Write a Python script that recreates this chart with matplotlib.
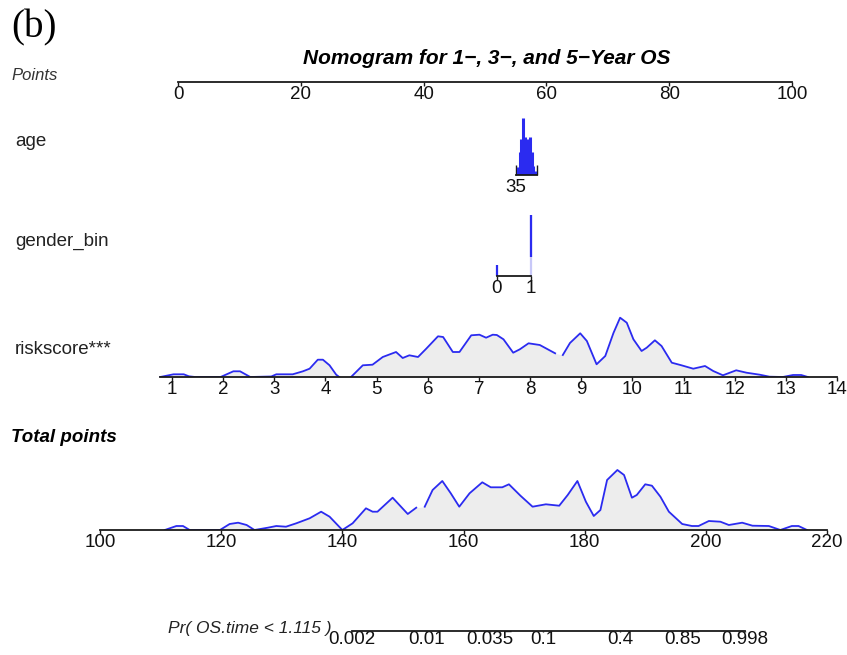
import numpy as np
import matplotlib
matplotlib.use('Agg')
import matplotlib.pyplot as plt

W, H = 847, 655

# ---- data ----
points_ticks = [0, 20, 40, 60, 80, 100]

age_axis = [35, 85]            # only 35 is labelled
age_spike_x = [40, 44, 48, 52, 56, 60, 64, 68, 72, 76, 80]
age_spike_h = [8, 23, 36, 57, 38, 26, 36, 38, 23, 9, 4]

gender_vals = [0, 1]
gender_h = [11, 61]

risk_ticks = list(range(1, 15))
risk_segments = [
    [(0.77, 0), (1.03, 2.7), (1.23, 2.7), (1.33, 0.7), (1.45, 0), (1.95, 0), (2.2, 5.7),
     (2.33, 5.7), (2.53, 0), (2.94, 0.5), (3.04, 2.7), (3.36, 2.7), (3.56, 5.7), (3.69, 8.3),
     (3.85, 17.3), (3.95, 17.3), (4.08, 11.7), (4.21, 2.3), (4.27, 0)],
    [(4.5, 0), (4.73, 11.7), (4.92, 12.3), (5.12, 20), (5.38, 25), (5.51, 19), (5.64, 21.7),
     (5.81, 20), (5.97, 28.3), (6.2, 40.7), (6.3, 40), (6.49, 25), (6.62, 25), (6.85, 41.7),
     (7.01, 42.3), (7.14, 39.3), (7.27, 42.3), (7.35, 42), (7.48, 37.7), (7.67, 24.3),
     (7.8, 27.7), (7.97, 33.7), (8.19, 32), (8.49, 23.7)],
    [(8.64, 22), (8.78, 34), (8.98, 43.7), (9.11, 36), (9.3, 12.7), (9.47, 21), (9.63, 44),
     (9.76, 59.3), (9.89, 54.3), (10.02, 37.7), (10.18, 26), (10.28, 29.3), (10.44, 36.7),
     (10.57, 31), (10.77, 14.3), (10.96, 11.7), (11.19, 8.3), (11.42, 11), (11.58, 6),
     (11.77, 1.7), (12.03, 6.7), (12.23, 4.3), (12.49, 2.3), (12.68, 0.3), (12.94, 0),
     (13.14, 2), (13.3, 2), (13.43, 0)],
]

total_ticks = [100, 120, 140, 160, 180, 200, 220]
total_segments = [
    [(110.7, 0), (112.6, 4), (113.7, 4), (114.8, 0), (119.8, 0), (121.4, 6), (122.8, 7.3),
     (124.2, 5), (125.5, 0), (127.7, 2.3), (129.1, 4), (130.7, 3.3), (132.4, 6.7),
     (134.6, 11.7), (136.5, 18.3), (137.9, 13.3), (140, 0), (141.7, 6.7), (143.9, 21.7),
     (145, 18.3), (145.8, 18.3), (148.3, 32.3), (150.8, 16), (152.2, 22.3)],
    [(153.6, 23.3), (154.9, 40), (156.5, 49), (157.9, 36.7), (159.3, 23.3), (161, 36.7),
     (163.1, 47.7), (164.5, 42.7), (166.4, 42.7), (167.5, 45.7), (169.4, 34.3), (171.4, 23.3),
     (173.6, 25.7), (175.8, 24.3), (177.2, 35), (178.8, 49), (180.2, 28.3), (181.5, 14),
     (182.6, 20), (183.7, 50), (185.4, 60), (186.5, 55), (187.8, 32.3), (188.6, 35),
     (190, 45.7), (191.1, 44.3), (192.5, 33.3), (193.9, 18.3), (196.1, 6), (197.7, 4),
     (198.8, 4), (200.5, 9), (202.4, 8.3), (203.8, 5), (206, 7.3), (207.7, 4.3), (210.4, 4),
     (212.3, 0), (214.2, 4), (215.3, 4), (216.7, 0)],
]

# Pr(OS.time < 1.115) labels and where they sit on the total points scale
pr_labels = ['0.002', '0.01', '0.035', '0.1', '0.4', '0.85', '0.998']
pr_at_total = [141.55, 153.93, 164.38, 173.13, 185.84, 196.24, 206.47]

# ---- styling ----
tick_font = ['Liberation Sans', 'DejaVu Sans']
plt.rcParams['font.family'] = ['Liberation Sans', 'DejaVu Sans']
blue = '#2b2bf0'
axis_col = '#1a1a1a'

fig = plt.figure(figsize=(W / 100, H / 100), dpi=100)


def row_axes(ybase, height, x0, v0, x1, v1):
    # one nomogram row: full figure width, scale fixed so v0 sits at pixel x0, v1 at x1
    ax = fig.add_axes([0, (H - ybase) / H, 1, height / H])
    a = (v1 - v0) / (x1 - x0)
    ax.set_xlim(v0 - x0 * a, v0 + (W - x0) * a)
    ax.set_ylim(0, height)
    ax.patch.set_visible(False)
    for s in ['top', 'right', 'left']:
        ax.spines[s].set_visible(False)
    ax.spines['bottom'].set_color(axis_col)
    ax.spines['bottom'].set_linewidth(1.3)
    ax.tick_params(left=False, labelleft=False)
    ax.tick_params(axis='x', direction='out', length=3, width=1, pad=0,
                   colors=axis_col)
    return ax


def set_ticks(ax, ticks, labels, size=13.5):
    ax.set_xticks(ticks)
    ax.set_xticklabels(labels, family=tick_font, fontsize=size, color='#111111')


def draw_density(ax, segments):
    xs = [p[0] for seg in segments for p in seg]
    hs = [p[1] for seg in segments for p in seg]
    ax.fill_between(xs, 0, hs, color='#ededed', lw=0, zorder=1)
    for seg in segments:
        ax.plot([p[0] for p in seg], [p[1] for p in seg], color=blue, lw=1.3, zorder=2)


# Points
ax = row_axes(82, 20, 178, 0, 792, 100)
ax.spines['bottom'].set_bounds(0, 100)
set_ticks(ax, points_ticks, [str(t) for t in points_ticks])

# age
ax = row_axes(174.5, 70, 516, age_axis[0], 537, age_axis[1])
ax.spines['bottom'].set_bounds(age_axis[0], age_axis[1])
ax.vlines(age_spike_x, 0, age_spike_h, color=blue, lw=2.2)
set_ticks(ax, age_axis, ['35', ''])
ax.tick_params(axis='x', direction='in', length=7, pad=3)

# gender_bin
ax = row_axes(276, 70, 497, 0, 531, 1)
ax.spines['bottom'].set_bounds(0, 1)
ax.vlines(gender_vals[0], 0, gender_h[0], color=blue, lw=1.6)
ax.vlines(gender_vals[1], 0, gender_h[1], color='#c8c8f8', lw=1.6)
ax.vlines(gender_vals[1], gender_h[1] * 0.31, gender_h[1], color=blue, lw=1.6)
set_ticks(ax, gender_vals, [str(v) for v in gender_vals])

# riskscore
ax = row_axes(377, 70, 172, 1, 837, 14)
ax.spines['bottom'].set_bounds(0.77, 14)
draw_density(ax, risk_segments)
set_ticks(ax, risk_ticks, [str(t) for t in risk_ticks])

# Total points
ax = row_axes(530, 70, 100, 100, 827, 220)
ax.spines['bottom'].set_bounds(100, 220)
draw_density(ax, total_segments)
set_ticks(ax, total_ticks, [str(t) for t in total_ticks])

# Pr( OS.time < 1.115 )
ax = row_axes(631, 20, 100, 100, 827, 220)
ax.spines['bottom'].set_bounds(pr_at_total[0], pr_at_total[-1])
set_ticks(ax, pr_at_total, pr_labels, size=13.5)
ax.tick_params(axis='x', length=1, pad=-1)


def label(x, y, s, **kw):
    fig.text(x / W, 1 - y / H, s, va='center', ha='left', **kw)


label(11, 28, '(b)', family=['Liberation Serif', 'DejaVu Serif'], fontsize=28)
fig.text(487 / W, 1 - 58 / H, 'Nomogram for 1\u2212, 3\u2212, and 5\u2212Year OS',
         ha='center', va='center', fontsize=15, fontweight='bold', style='italic')
label(11, 75, 'Points', fontsize=12, style='italic', color='#333333')
label(15, 142, 'age', fontsize=13.5, color='#222222')
label(15, 241, 'gender_bin', fontsize=13.5, color='#222222')
label(15, 350, 'riskscore***', fontsize=13.5, color='#222222')
label(11, 438, 'Total points', fontsize=13.5, fontweight='bold', style='italic')
label(168, 629, 'Pr( OS.time < 1.115 )', fontsize=12.5, style='italic', color='#222222')

fig.savefig('out.png', dpi=100)
